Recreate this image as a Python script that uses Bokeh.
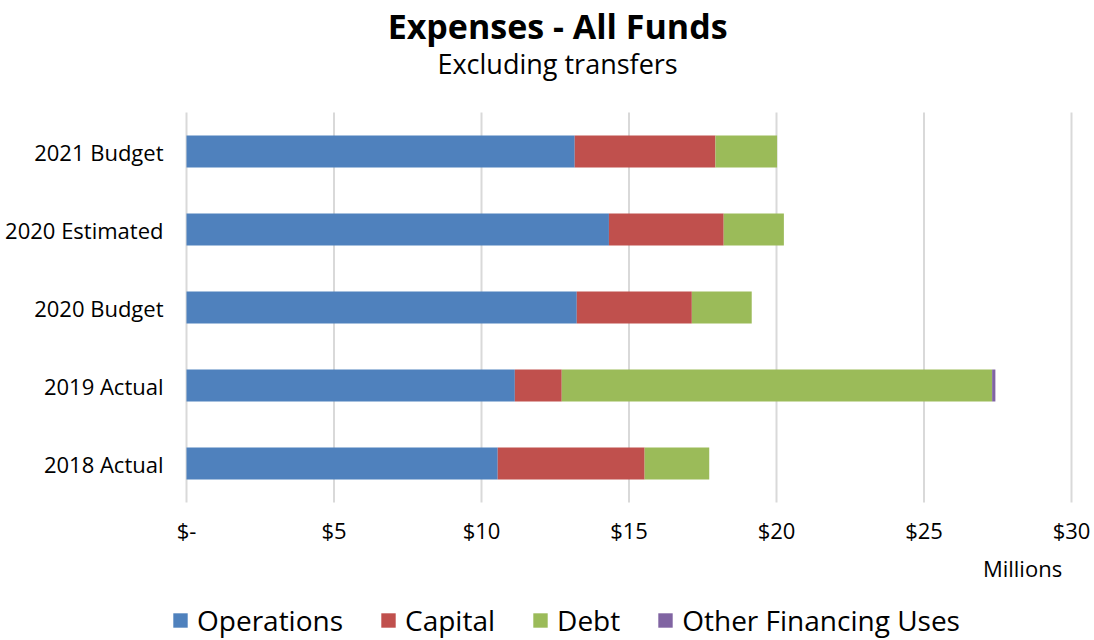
from bokeh.plotting import figure
from bokeh.models import Range1d, FixedTicker, Legend, LegendItem, Label, ColumnDataSource
from bokeh.embed import file_html
from bokeh.resources import INLINE

categories = ["2018 Actual", "2019 Actual", "2020 Budget", "2020 Estimated", "2021 Budget"]
operations = [10.55, 11.13, 13.23, 14.32, 13.16]
capital = [4.98, 1.59, 3.90, 3.89, 4.77]
debt = [2.19, 14.59, 2.03, 2.04, 2.09]
other = [0.0, 0.11, 0.0, 0.0, 0.0]
series = ["Operations", "Capital", "Debt", "Other Financing Uses"]
colors = ["#4F81BD", "#C0504D", "#9BBB59", "#8064A2"]
x_ticks = [0, 5, 10, 15, 20, 25, 30]
x_tick_labels = ["$-", "$5", "$10", "$15", "$20", "$25", "$30"]
title_text = "Expenses - All Funds"
subtitle_text = "Excluding transfers"
unit_text = "Millions"

FONT = "Open Sans"

# layout: bar rows are 78 px apart, 29.5 px per million; the frame covers the whole
# picture so that titles, tick labels, unit label and legend are not clipped
ROW_PX = 78.0
COL_PX = 29.5
y_lo = -0.5 - 138 / ROW_PX
y_hi = 4.5 + 112 / ROW_PX
x_lo = -15 / COL_PX
x_hi = 30 + 19 / COL_PX

pos = list(range(len(categories)))
src = ColumnDataSource(dict(pos=pos, Operations=operations, Capital=capital,
                            Debt=debt, **{"Other Financing Uses": other}))

p = figure(frame_width=919, frame_height=640, output_backend="svg", toolbar_location=None,
           x_range=Range1d(x_lo, x_hi), y_range=Range1d(y_lo, y_hi), title=None)
p.min_border_left = 171
p.min_border_right = 0
p.min_border_top = 0
p.min_border_bottom = 0
p.outline_line_color = None
p.background_fill_color = "white"

# vertical gridlines spanning the bar area only
p.xgrid.grid_line_color = None
p.ygrid.grid_line_color = None
p.segment(x0=x_ticks, x1=x_ticks, y0=[-0.5] * len(x_ticks), y1=[4.5] * len(x_ticks),
          line_color="#D9D9D9", line_width=2, level="underlay")

rs = p.hbar_stack(series, y="pos", height=0.41, fill_color=colors, line_color=None, source=src)

xa = p.xaxis[0]
xa.fixed_location = -0.5
xa.ticker = FixedTicker(ticks=x_ticks)
xa.major_label_overrides = {t: l for t, l in zip(x_ticks, x_tick_labels)}
p.yaxis.ticker = FixedTicker(ticks=pos)
p.yaxis.major_label_overrides = {i: c for i, c in zip(pos, categories)}
for ax in (xa, p.yaxis[0]):
    ax.axis_line_color = None
    ax.major_tick_line_color = None
    ax.minor_tick_line_color = None
    ax.major_label_text_font = FONT
    ax.major_label_text_font_size = "22px"
    ax.major_label_text_color = "#000000"
xa.major_label_standoff = 6
p.yaxis.major_label_standoff = 2

p.add_layout(Label(x=12.58, y=5.615, text=title_text, text_align="center", text_baseline="middle",
                   text_font=FONT, text_font_size="34px", text_font_style="bold", text_color="#000000"))
p.add_layout(Label(x=12.58, y=5.128, text=subtitle_text, text_align="center", text_baseline="middle",
                   text_font=FONT, text_font_size="27px", text_color="#000000"))
p.add_layout(Label(x=28.34, y=-1.346, text=unit_text, text_align="center", text_baseline="middle",
                   text_font=FONT, text_font_size="22px", text_color="#000000"))

legend = Legend(items=[LegendItem(label=s, renderers=[r]) for s, r in zip(series, rs)],
                orientation="horizontal", location=(0, 1),
                glyph_width=18, glyph_height=18, label_standoff=8, spacing=36,
                label_text_font=FONT, label_text_font_size="28px", label_text_color="#000000",
                label_height=32,
                border_line_color=None, background_fill_alpha=0, padding=0, margin=0)
p.add_layout(legend, "center")

open("out.html", "w").write(file_html(p, INLINE))
